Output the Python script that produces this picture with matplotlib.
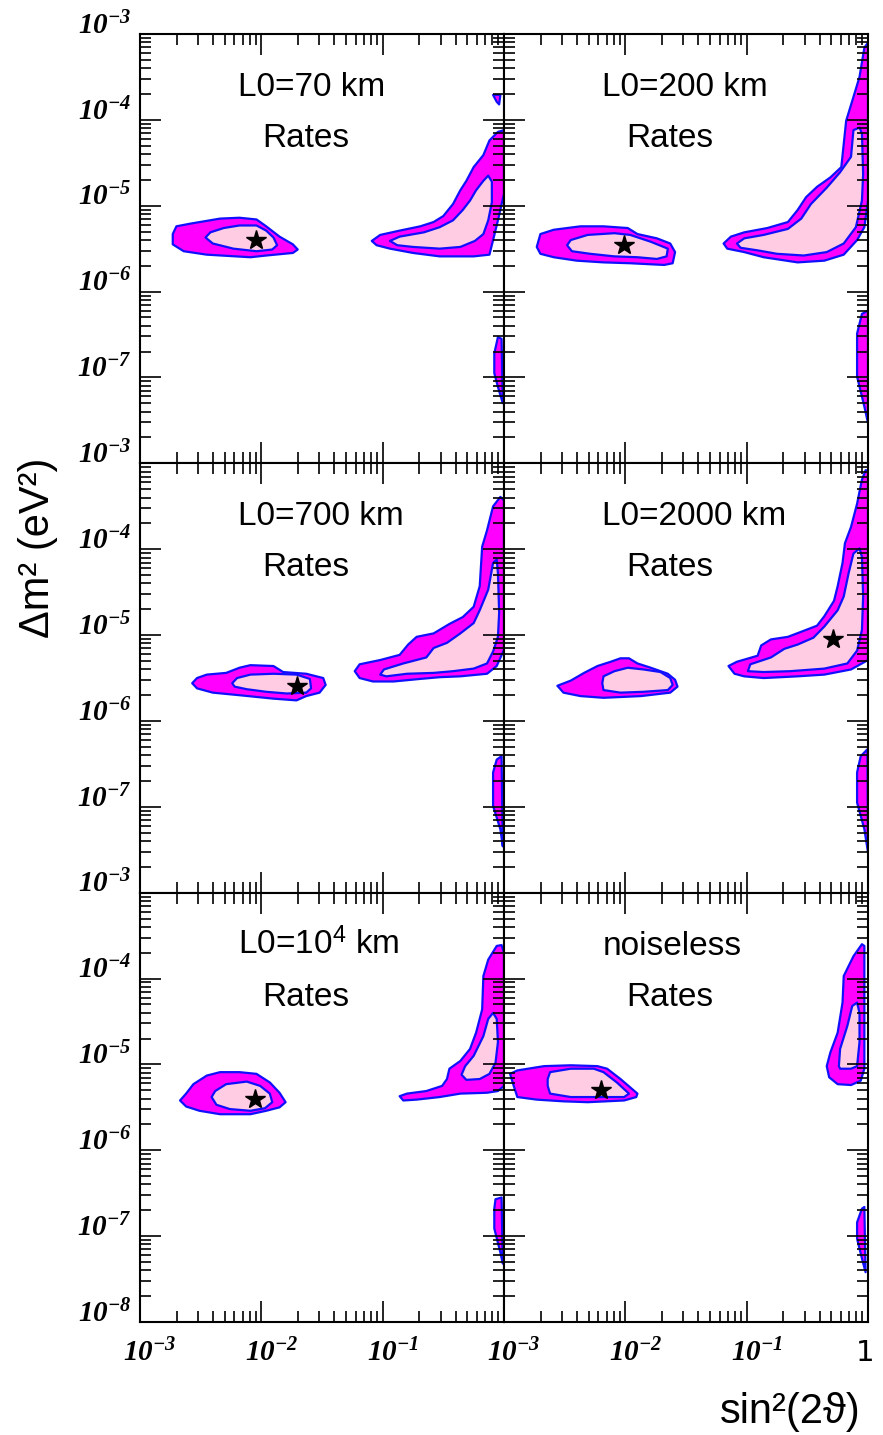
import numpy as np
import matplotlib
matplotlib.use("Agg")
import matplotlib.pyplot as plt
import matplotlib.transforms as mtransforms
from matplotlib.ticker import LogLocator, NullFormatter

plt.rcParams['mathtext.fontset'] = 'custom'
plt.rcParams['mathtext.rm'] = 'Liberation Serif:bold:italic'
plt.rcParams['mathtext.it'] = 'Liberation Serif:bold:italic'
plt.rcParams['mathtext.bf'] = 'Liberation Serif:bold:italic'
plt.rcParams['mathtext.sf'] = 'Liberation Sans'

# --- panel texts ---
titles = ["L0=70 km", "L0=200 km", "L0=700 km", "L0=2000 km",
          r"L0=10$^{\mathsf{4}}$ km", "noiseless"]
subtitle = "Rates"

# --- allowed regions, vertices as (log10 sin^2(2theta), log10 dm^2/eV^2) ---
# outer = magenta (lower CL), inner = pink (higher CL)

# L0 = 70 km
p70_lo = [(-2.73, -5.33), (-2.70, -5.24), (-2.59, -5.21), (-2.34, -5.15), (-2.18, -5.14),
          (-2.04, -5.16), (-1.96, -5.24), (-1.85, -5.36), (-1.74, -5.45), (-1.70, -5.51),
          (-1.74, -5.55), (-1.96, -5.58), (-2.09, -5.60), (-2.45, -5.57), (-2.64, -5.53),
          (-2.73, -5.45)]
p70_li = [(-2.46, -5.37), (-2.42, -5.31), (-2.31, -5.26), (-2.18, -5.23), (-2.04, -5.23),
          (-1.96, -5.29), (-1.90, -5.37), (-1.87, -5.46), (-1.91, -5.51), (-2.04, -5.53),
          (-2.23, -5.50), (-2.40, -5.44)]
p70_ro = [(-1.09, -5.41), (-1.02, -5.34), (-0.86, -5.29), (-0.69, -5.24), (-0.58, -5.19),
          (-0.50, -5.12), (-0.42, -4.98), (-0.36, -4.82), (-0.31, -4.71), (-0.25, -4.55),
          (-0.17, -4.41), (-0.12, -4.24), (-0.05, -4.14), (0.0, -4.12), (0.0, -4.86),
          (-0.05, -5.17), (-0.09, -5.40), (-0.12, -5.57), (-0.25, -5.59), (-0.53, -5.59),
          (-0.75, -5.55), (-0.94, -5.50), (-1.05, -5.46)]
p70_ri = [(-0.94, -5.41), (-0.86, -5.36), (-0.66, -5.31), (-0.53, -5.25), (-0.42, -5.17),
          (-0.34, -5.05), (-0.28, -4.94), (-0.23, -4.82), (-0.17, -4.71), (-0.13, -4.65),
          (-0.10, -4.72), (-0.10, -4.96), (-0.13, -5.17), (-0.17, -5.33), (-0.24, -5.41),
          (-0.36, -5.48), (-0.53, -5.50), (-0.75, -5.48), (-0.88, -5.46)]
p70_top = [(-0.09, -3.71), (-0.03, -3.71), (-0.04, -3.82), (-0.06, -3.79)]
p70_bot = [(-0.05, -6.53), (-0.02, -6.55), (-0.01, -7.30), (-0.05, -7.11), (-0.08, -6.95),
           (-0.08, -6.72)]

# L0 = 200 km
p200_lo = [(-2.73, -5.48), (-2.70, -5.33), (-2.59, -5.28), (-2.37, -5.24), (-2.18, -5.24),
           (-1.98, -5.26), (-1.90, -5.33), (-1.74, -5.38), (-1.63, -5.44), (-1.59, -5.54),
           (-1.61, -5.67), (-1.68, -5.69), (-1.96, -5.67), (-2.18, -5.66), (-2.40, -5.64),
           (-2.59, -5.60), (-2.70, -5.56)]
p200_li = [(-2.48, -5.46), (-2.45, -5.40), (-2.31, -5.34), (-2.09, -5.32), (-1.96, -5.34),
           (-1.79, -5.42), (-1.65, -5.50), (-1.66, -5.59), (-1.74, -5.62), (-1.90, -5.60),
           (-2.09, -5.59), (-2.29, -5.56), (-2.44, -5.53)]
p200_ro = [(-1.19, -5.44), (-1.13, -5.36), (-1.02, -5.31), (-0.83, -5.26), (-0.66, -5.19),
           (-0.58, -5.05), (-0.51, -4.90), (-0.42, -4.78), (-0.31, -4.67), (-0.22, -4.55),
           (-0.20, -4.28), (-0.18, -4.01), (-0.13, -3.78), (-0.07, -3.50), (-0.03, -3.16),
           (0.0, -3.10), (0.0, -4.94), (-0.03, -5.25), (-0.09, -5.40), (-0.20, -5.57),
           (-0.36, -5.64), (-0.58, -5.66), (-0.86, -5.60), (-1.02, -5.54), (-1.16, -5.50)]
p200_ri = [(-1.08, -5.44), (-1.02, -5.38), (-0.86, -5.34), (-0.66, -5.27), (-0.55, -5.15),
           (-0.47, -4.98), (-0.34, -4.79), (-0.23, -4.61), (-0.14, -4.43), (-0.12, -4.12),
           (-0.07, -4.09), (-0.05, -4.16), (-0.04, -4.63), (-0.05, -4.94), (-0.10, -5.25),
           (-0.20, -5.44), (-0.34, -5.54), (-0.53, -5.58), (-0.75, -5.56), (-0.91, -5.52),
           (-1.05, -5.49)]
p200_bot = [(-0.05, -6.26), (0.0, -6.22), (0.0, -7.53), (-0.03, -7.34), (-0.09, -6.99),
            (-0.09, -6.49)]

# L0 = 700 km
p700_lo = [(-2.57, -5.56), (-2.53, -5.50), (-2.45, -5.46), (-2.29, -5.44), (-2.18, -5.38),
           (-2.09, -5.35), (-1.90, -5.36), (-1.82, -5.43), (-1.63, -5.45), (-1.49, -5.50),
           (-1.47, -5.58), (-1.52, -5.67), (-1.63, -5.71), (-1.71, -5.76), (-1.90, -5.74),
           (-2.18, -5.70), (-2.40, -5.67), (-2.53, -5.62)]
p700_li = [(-2.24, -5.56), (-2.20, -5.50), (-2.09, -5.46), (-1.90, -5.45), (-1.71, -5.46),
           (-1.60, -5.51), (-1.59, -5.62), (-1.63, -5.67), (-1.79, -5.68), (-1.96, -5.66),
           (-2.12, -5.63), (-2.22, -5.60)]
p700_ro = [(-1.23, -5.42), (-1.19, -5.34), (-1.02, -5.29), (-0.86, -5.23), (-0.79, -5.11),
           (-0.72, -5.02), (-0.58, -4.98), (-0.45, -4.87), (-0.34, -4.79), (-0.25, -4.67),
           (-0.20, -4.43), (-0.18, -3.97), (-0.14, -3.78), (-0.09, -3.50), (-0.03, -3.39),
           (0.0, -3.43), (0.0, -5.17), (-0.06, -5.36), (-0.14, -5.45), (-0.36, -5.48),
           (-0.53, -5.49), (-0.69, -5.51), (-0.91, -5.54), (-1.08, -5.54), (-1.19, -5.50)]
p700_ri = [(-1.02, -5.46), (-0.99, -5.40), (-0.83, -5.33), (-0.64, -5.26), (-0.58, -5.15),
           (-0.47, -5.09), (-0.36, -4.98), (-0.25, -4.86), (-0.20, -4.71), (-0.13, -4.47),
           (-0.09, -4.16), (-0.06, -4.12), (-0.05, -4.28), (-0.04, -4.74), (-0.05, -5.02),
           (-0.09, -5.19), (-0.14, -5.33), (-0.25, -5.39), (-0.42, -5.42), (-0.58, -5.44),
           (-0.80, -5.45), (-0.97, -5.48)]
p700_bot = [(-0.06, -6.45), (-0.02, -6.41), (-0.01, -7.46), (-0.03, -7.26), (-0.09, -6.99),
            (-0.09, -6.60)]

# L0 = 2000 km
p2000_lo = [(-2.56, -5.59), (-2.45, -5.53), (-2.34, -5.44), (-2.23, -5.36), (-2.12, -5.31),
            (-2.04, -5.27), (-1.97, -5.27), (-1.90, -5.33), (-1.79, -5.38), (-1.65, -5.45),
            (-1.59, -5.52), (-1.57, -5.60), (-1.63, -5.67), (-1.87, -5.71), (-2.18, -5.73),
            (-2.37, -5.71), (-2.51, -5.67)]
p2000_li = [(-2.19, -5.56), (-2.18, -5.48), (-2.09, -5.42), (-1.98, -5.38), (-1.85, -5.40),
            (-1.71, -5.43), (-1.63, -5.50), (-1.61, -5.58), (-1.65, -5.64), (-1.85, -5.66),
            (-2.04, -5.67), (-2.18, -5.64)]
p2000_ro = [(-1.15, -5.36), (-1.08, -5.31), (-0.91, -5.24), (-0.88, -5.12), (-0.80, -5.05),
            (-0.66, -5.02), (-0.53, -4.95), (-0.42, -4.89), (-0.36, -4.78), (-0.28, -4.60),
            (-0.25, -4.43), (-0.21, -4.16), (-0.19, -3.93), (-0.14, -3.74), (-0.09, -3.47),
            (-0.05, -3.19), (-0.02, -3.08), (0.0, -3.08), (0.0, -5.29), (-0.05, -5.33),
            (-0.14, -5.40), (-0.36, -5.46), (-0.58, -5.48), (-0.86, -5.50), (-1.02, -5.48),
            (-1.10, -5.45)]
p2000_ri = [(-0.99, -5.42), (-0.97, -5.34), (-0.80, -5.26), (-0.69, -5.16), (-0.58, -5.11),
            (-0.45, -5.03), (-0.36, -4.90), (-0.25, -4.71), (-0.20, -4.55), (-0.16, -4.28),
            (-0.12, -4.05), (-0.07, -3.99), (-0.05, -4.09), (-0.04, -4.55), (-0.05, -4.94),
            (-0.09, -5.18), (-0.17, -5.33), (-0.36, -5.39), (-0.64, -5.42), (-0.86, -5.43)]
p2000_bot = [(-0.06, -6.41), (-0.005, -6.33), (0.0, -7.53), (-0.03, -7.26), (-0.09, -6.95),
             (-0.09, -6.60)]

# L0 = 10^4 km
p1e4_lo = [(-2.67, -5.42), (-2.62, -5.34), (-2.56, -5.23), (-2.45, -5.13), (-2.34, -5.09),
           (-2.18, -5.09), (-2.04, -5.11), (-1.93, -5.21), (-1.85, -5.33), (-1.80, -5.44),
           (-1.85, -5.50), (-1.96, -5.54), (-2.09, -5.58), (-2.34, -5.58), (-2.51, -5.54),
           (-2.62, -5.49)]
p1e4_li = [(-2.41, -5.38), (-2.38, -5.31), (-2.29, -5.23), (-2.12, -5.20), (-2.01, -5.25),
           (-1.93, -5.34), (-1.91, -5.44), (-1.97, -5.51), (-2.09, -5.54), (-2.26, -5.52),
           (-2.37, -5.47)]
p1e4_ro = [(-0.86, -5.37), (-0.80, -5.34), (-0.64, -5.31), (-0.51, -5.25), (-0.47, -5.17),
           (-0.45, -5.05), (-0.36, -4.96), (-0.28, -4.82), (-0.23, -4.63), (-0.18, -4.36),
           (-0.17, -3.97), (-0.13, -3.78), (-0.06, -3.62), (-0.02, -3.61), (0.0, -3.70),
           (0.0, -5.25), (-0.05, -5.31), (-0.14, -5.33), (-0.36, -5.34), (-0.53, -5.38),
           (-0.72, -5.41), (-0.83, -5.42)]
p1e4_ri = [(-0.35, -5.12), (-0.32, -5.02), (-0.25, -4.90), (-0.17, -4.67), (-0.13, -4.47),
           (-0.09, -4.40), (-0.06, -4.47), (-0.05, -4.74), (-0.07, -4.98), (-0.12, -5.11),
           (-0.20, -5.17), (-0.31, -5.18)]
p1e4_bot = [(-0.07, -6.57), (-0.02, -6.55), (-0.01, -7.32), (-0.03, -7.19), (-0.08, -6.91),
            (-0.08, -6.68)]

# noiseless
pnl_lo = [(-2.95, -5.11), (-2.89, -5.07), (-2.67, -5.02), (-2.45, -5.01), (-2.23, -5.02),
          (-2.15, -5.05), (-2.04, -5.17), (-1.90, -5.34), (-1.91, -5.38), (-2.01, -5.42),
          (-2.31, -5.44), (-2.51, -5.43), (-2.73, -5.41), (-2.89, -5.38), (-2.92, -5.25)]
pnl_li = [(-2.64, -5.17), (-2.62, -5.09), (-2.45, -5.05), (-2.26, -5.05), (-2.18, -5.09),
          (-2.07, -5.21), (-1.97, -5.34), (-2.01, -5.38), (-2.45, -5.38), (-2.62, -5.34),
          (-2.64, -5.25)]
pnl_ro = [(-0.34, -5.02), (-0.31, -4.86), (-0.25, -4.63), (-0.21, -4.28), (-0.20, -3.97),
          (-0.12, -3.74), (-0.05, -3.60), (-0.03, -3.62), (-0.03, -5.05), (-0.06, -5.19),
          (-0.14, -5.24), (-0.25, -5.23), (-0.32, -5.15)]
pnl_ri = [(-0.24, -5.02), (-0.23, -4.82), (-0.17, -4.55), (-0.13, -4.32), (-0.09, -4.28),
          (-0.07, -4.40), (-0.07, -4.74), (-0.09, -5.02), (-0.14, -5.05), (-0.23, -5.05)]
pnl_bot = [(-0.05, -6.68), (-0.03, -6.66), (-0.02, -7.42), (-0.05, -7.26), (-0.09, -7.03),
           (-0.09, -6.84)]

# best-fit points (log10)
star_x = [-2.04, -2.01, -1.71, -0.29, -2.05, -2.20]
star_y = [-5.40, -5.46, -5.59, -5.05, -5.40, -5.30]

outer_regions = [[p70_lo, p70_ro, p70_top, p70_bot],
                 [p200_lo, p200_ro, p200_bot],
                 [p700_lo, p700_ro, p700_bot],
                 [p2000_lo, p2000_ro, p2000_bot],
                 [p1e4_lo, p1e4_ro, p1e4_bot],
                 [pnl_lo, pnl_ro, pnl_bot]]
inner_regions = [[p70_li, p70_ri], [p200_li, p200_ri], [p700_li, p700_ri],
                 [p2000_li, p2000_ri], [p1e4_li, p1e4_ri], [pnl_li, pnl_ri]]

x_decades = [-3, -2, -1, 0]
y_decades = [-8, -7, -6, -5, -4, -3]

MAGENTA = '#ff00ff'
PINK = '#ffcce4'
BLUE = '#1010ff'


def draw_region(ax, pts, face):
    a = np.array(pts)
    ax.fill(10 ** a[:, 0], 10 ** a[:, 1], facecolor=face, edgecolor=BLUE,
            linewidth=1.6, joinstyle='round')


def dec_label(e):
    return "1" if e == 0 else r"$\mathrm{10^{%d}}$" % e


fig = plt.figure(figsize=(8.83, 14.35), dpi=100)

left_x = [140 / 883, 504 / 883]
w = 364 / 883
row_bottom = [1 - 463.3 / 1435, 1 - 892.7 / 1435, 1 - 1322 / 1435]
h = 429.3 / 1435

for i in range(6):
    row, col = divmod(i, 2)
    ax = fig.add_axes([left_x[col], row_bottom[row], w, h])
    ax.set_xscale('log')
    ax.set_yscale('log')
    ax.set_xlim(1e-3, 1)
    ax.set_ylim(1e-8, 1e-3)

    for pts in outer_regions[i]:
        draw_region(ax, pts, MAGENTA)
    for pts in inner_regions[i]:
        draw_region(ax, pts, PINK)
    ax.plot(10 ** star_x[i], 10 ** star_y[i], marker='*', color='k',
            markersize=15, linestyle='none', zorder=5)

    ax.text(0.27, 0.856, titles[i], transform=ax.transAxes, fontsize=24,
            family=['Liberation Sans', 'DejaVu Sans'], ha='left', va='baseline')
    ax.text(0.335, 0.737, subtitle, transform=ax.transAxes, fontsize=24,
            family=['Liberation Sans', 'DejaVu Sans'], ha='left', va='baseline')

    # ticks
    xt = [10.0 ** e for e in x_decades]
    yt = [10.0 ** e for e in y_decades]
    if row == 2:
        xl = [dec_label(e) if (col == 1 or e < 0) else "" for e in x_decades]
    else:
        xl = ["" for e in x_decades]
    if col == 0:
        yl = [dec_label(e) if (row == 2 or e > -8) else "" for e in y_decades]
    else:
        yl = ["" for e in y_decades]
    ax.set_xticks(xt, xl, fontsize=21)
    ax.set_yticks(yt, yl, fontsize=21, va='baseline')
    ax.xaxis.set_minor_locator(LogLocator(base=10, subs=np.arange(2, 10), numticks=20))
    ax.yaxis.set_minor_locator(LogLocator(base=10, subs=np.arange(2, 10), numticks=20))
    ax.xaxis.set_minor_formatter(NullFormatter())
    ax.yaxis.set_minor_formatter(NullFormatter())
    ax.tick_params(which='both', direction='in', top=True, right=True, width=1.2)
    ax.tick_params(which='major', length=15)
    ax.tick_params(which='minor', length=8)
    ax.tick_params(axis='y', which='major', pad=6)
    ax.tick_params(axis='x', which='major', pad=12)
    shift = mtransforms.ScaledTranslation(10 / 100, 0, fig.dpi_scale_trans)
    for lbl in ax.get_xticklabels():
        if lbl.get_text() not in ("", "1"):
            lbl.set_transform(lbl.get_transform() + shift)
        elif lbl.get_text() == "1":
            lbl.set_horizontalalignment('right')
            lbl.set_transform(lbl.get_transform() + mtransforms.ScaledTranslation(
                6 / 100, 0, fig.dpi_scale_trans))
    for sp in ax.spines.values():
        sp.set_linewidth(1.5)

fig.text(38 / 883, 1 - 548 / 1435, "\u0394m\u00b2 (eV\u00b2)", rotation=90,
         fontsize=30, family=['Liberation Sans', 'DejaVu Sans'], ha='center', va='center')
fig.text(790 / 883, 1 - 1412 / 1435, "sin\u00b2(2\u03d1)",
         fontsize=30, family=['Liberation Sans', 'DejaVu Sans'], ha='center', va='center')

fig.savefig("out.png", dpi=100)
